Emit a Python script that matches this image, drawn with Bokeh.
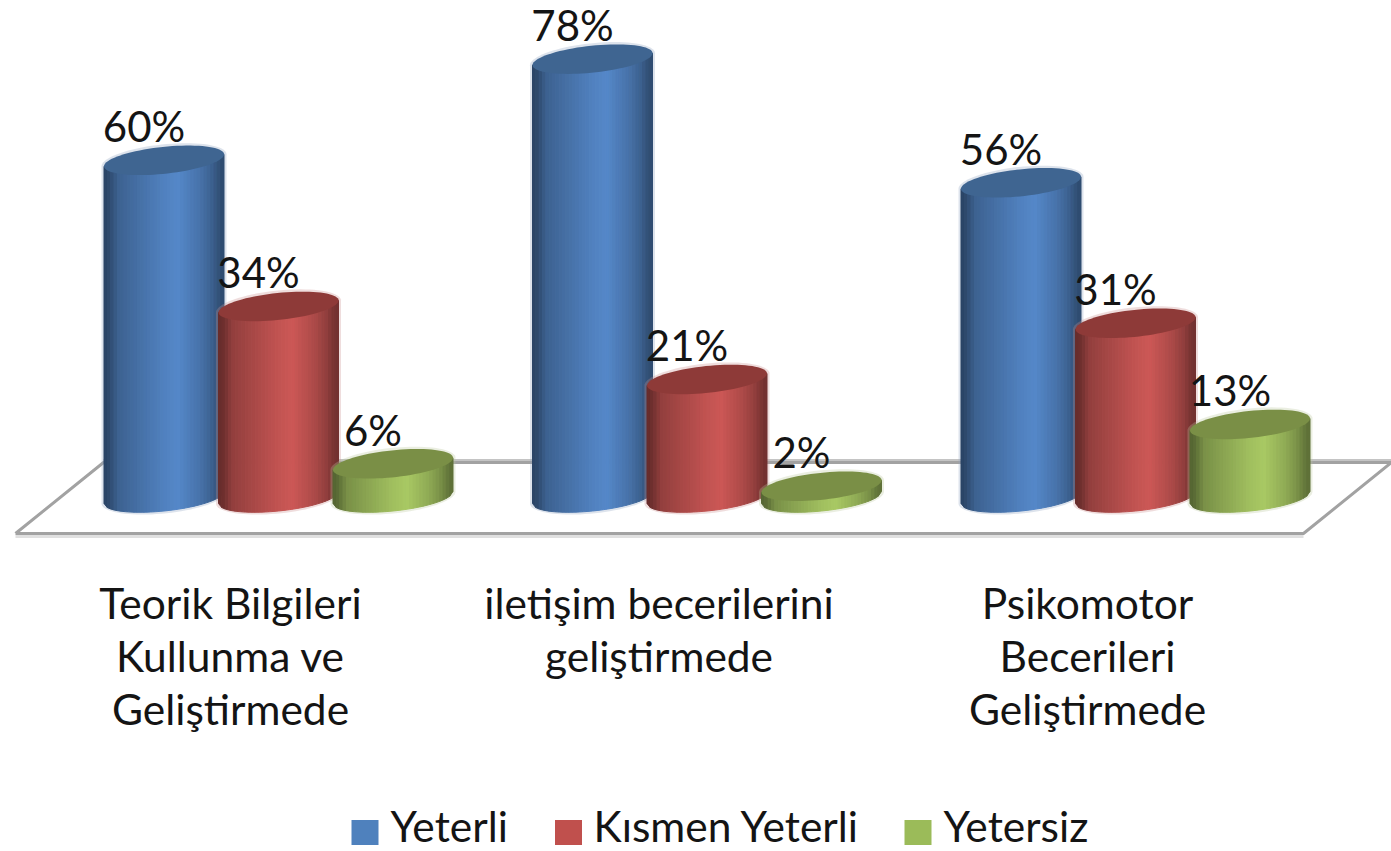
import numpy as np
from bokeh.plotting import figure
from bokeh.models import ColumnDataSource, Range1d
from bokeh.core.properties import value
from bokeh.embed import file_html
from bokeh.resources import INLINE

# ---- data ----
categories = [
    ["Teorik Bilgileri", "Kullunma ve", "Geliştirmede"],
    ["iletişim becerilerini", "geliştirmede"],
    ["Psikomotor", "Becerileri", "Geliştirmede"],
]
series_names = ["Yeterli", "Kısmen Yeterli", "Yetersiz"]
yeterli = [60, 78, 56]
kismen = [34, 21, 31]
yetersiz = [6, 2, 13]
series_values = [yeterli, kismen, yetersiz]

body_colors = ["#5588C9", "#CC5856", "#A9C964"]
top_colors = ["#3F6591", "#8E3A38", "#7A8F46"]
halo_colors = ["#8FA3C0", "#C98F8D", "#B9C89A"]
legend_colors = ["#4F81BD", "#C0504D", "#9BBB59"]

# ---- scales: pixels of the reference per data unit ----
W, H = 1391, 851
PXX = 428.5          # px per category
PXY = 5.62           # px per percent
X0, Y0 = 278.0, 497  # reference px of group 0 centre / value 0


def dx(px):
    return (px - X0) / PXX


def dy(py):
    return (Y0 - py) / PXY


p = figure(width=W, height=H, output_backend="svg", toolbar_location=None,
           x_range=Range1d(dx(0), dx(W)), y_range=Range1d(dy(H), dy(0)),
           min_border=0, outline_line_color=None, background_fill_color="white")
p.axis.visible = False
p.grid.visible = False

# ---- floor ----
fl_x = [dx(15), dx(1303), dx(1391), dx(103), dx(15)]
fl_y = [dy(533), dy(533), dy(462), dy(462), dy(533)]
p.line([dx(15), dx(1303)], [dy(536), dy(536)], line_color="#E0E0E0", line_width=3)
p.line([dx(103), dx(1391)], [dy(460), dy(460)], line_color="#C4C4C4", line_width=3)
p.line(fl_x, fl_y, line_color="#A2A2A2", line_width=3)

# ---- cylinders ----
A, B, K = 60 / PXX, 13.5 / PXY, 6 / PXY
OFF = 114.5 / PXX
stops_f = [0, .05, .12, .5, .62, .8, .9, .97, 1]
stops_s = [.50, .55, .72, .95, 1, .85, .72, .58, .55]


def shade(hexcol, f):
    s = np.interp(f, stops_f, stops_s)
    r, g, b = [int(hexcol[i:i + 2], 16) for i in (1, 3, 5)]
    return "#%02x%02x%02x" % (int(r * s), int(g * s), int(b * s))


N = 36
u_edges = np.linspace(-1, 1, N + 1)
for s, vals in enumerate(series_values):
    off = (s - 1) * OFF
    for g, v in enumerate(vals):
        cx = g + off
        # soft halo round the silhouette
        t = np.linspace(0, np.pi, 40)
        a, b_ = A + 2.5 / PXX, B + 2.5 / PXY
        hx = np.r_[cx + a * np.cos(t), cx - a * np.cos(t)]
        hy = np.r_[v + b_ * np.sin(t) + K * np.cos(t), -b_ * np.sin(t) - K * np.cos(t)]
        p.patch(hx, hy, fill_color=halo_colors[s], fill_alpha=0.3, line_color=None)
        # body as shaded strips
        xs, ys, cols = [], [], []
        for i in range(N):
            u0, u1 = u_edges[i], u_edges[i + 1]
            b0 = -B * np.sqrt(1 - u0 ** 2) + K * u0
            b1 = -B * np.sqrt(1 - u1 ** 2) + K * u1
            xs.append([cx + A * u0, cx + A * u1, cx + A * u1, cx + A * u0])
            ys.append([b0, b1, v + K * u1, v + K * u0])
            cols.append(shade(body_colors[s], (i + .5) / N))
        p.patches(xs=xs, ys=ys, fill_color=cols, line_color=cols, line_width=1)
        # top ellipse
        t = np.linspace(0, 2 * np.pi, 80)
        p.patch(cx + A * np.cos(t), v + B * np.sin(t) + K * np.cos(t),
                fill_color=top_colors[s], line_color=None)

# ---- value labels ----
lx, ly, lt = [], [], []
for s, vals in enumerate(series_values):
    for g, v in enumerate(vals):
        lx.append(g + (s - 1) * OFF)
        ly.append(v)
        lt.append(f"{v}%")
p.text(x="x", y="y", text="t", source=ColumnDataSource(dict(x=lx, y=ly, t=lt)),
       x_offset=-20, y_offset=-34, text_align="center", text_baseline="middle",
       text_font=value("Lato"), text_font_size="42px", text_color="#141414")

# ---- category labels ----
cx_, cy_, ct_ = [], [], []
for g, lines in enumerate(categories):
    for i, line in enumerate(lines):
        cx_.append(g)
        cy_.append(dy(602 + 53 * i))
        ct_.append(line)
p.text(x="x", y="y", text="t", source=ColumnDataSource(dict(x=cx_, y=cy_, t=ct_)),
       x_offset=-48, text_align="center", text_baseline="middle",
       text_font=value("Lato"), text_font_size="42.5px", text_color="#141414")

# ---- legend ----
leg_sq = [364.5, 568, 917.5]
leg_tx = [390, 593, 943]
p.rect(x=[dx(v) for v in leg_sq], y=[dy(832)] * 3, width=27, height=25,
       width_units="screen", height_units="screen",
       fill_color=legend_colors, line_color=None)
p.text(x=[dx(v) for v in leg_tx], y=[dy(825)] * 3, text=series_names,
       text_align="left", text_baseline="middle",
       text_font=value("Lato"), text_font_size="42.5px", text_color="#141414")

open("out.html", "w").write(file_html(p, INLINE))
